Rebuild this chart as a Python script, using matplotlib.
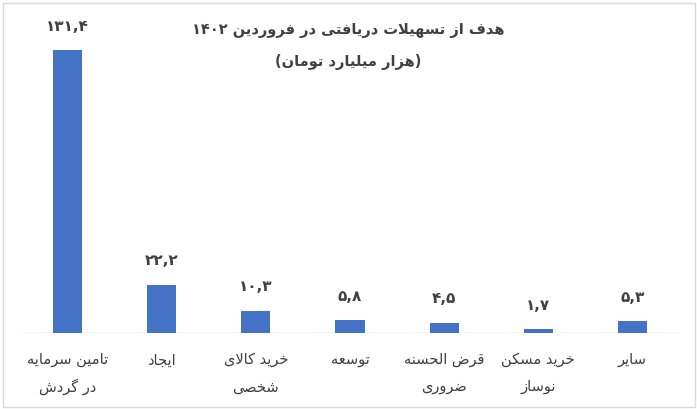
import matplotlib
matplotlib.use('Agg')
import matplotlib.pyplot as plt
from matplotlib import font_manager
from matplotlib.font_manager import FontProperties
from matplotlib.ft2font import FT2Font
from matplotlib.patches import Rectangle

# ---------------- data ----------------
categories = ["تامین سرمایه\nدر گردش", "ایجاد", "خرید کالای\nشخصی", "توسعه",
              "قرض الحسنه\nضروری", "خرید مسکن\nنوساز", "سایر"]
values = [131.4, 22.2, 10.3, 5.8, 4.5, 1.7, 5.3]
value_labels = ["۱۳۱,۴", "۲۲,۲", "۱۰,۳", "۵,۸", "۴,۵", "۱,۷", "۵,۳"]
title_lines = ["هدف از تسهیلات دریافتی در فروردین ۱۴۰۲", "(هزار میلیارد تومان)"]

# ---------------- simple Persian shaping ----------------
FAMILY = 'DejaVu Sans'
cmaps = []
for w in ('normal', 'bold'):
    try:
        p = font_manager.findfont(FontProperties(family=FAMILY, weight=w))
        cmaps.append(set(FT2Font(p).get_charmap().keys()))
    except Exception:
        pass


def has(ch):
    return all(ord(ch) in c for c in cmaps) if cmaps else True


FORMS = {
    'ا': ('\uFE8D', '\uFE8E', None, None),
    'ب': ('\uFE8F', '\uFE90', '\uFE91', '\uFE92'),
    'ت': ('\uFE95', '\uFE96', '\uFE97', '\uFE98'),
    'ج': ('\uFE9D', '\uFE9E', '\uFE9F', '\uFEA0'),
    'ح': ('\uFEA1', '\uFEA2', '\uFEA3', '\uFEA4'),
    'خ': ('\uFEA5', '\uFEA6', '\uFEA7', '\uFEA8'),
    'د': ('\uFEA9', '\uFEAA', None, None),
    'ر': ('\uFEAD', '\uFEAE', None, None),
    'ز': ('\uFEAF', '\uFEB0', None, None),
    'س': ('\uFEB1', '\uFEB2', '\uFEB3', '\uFEB4'),
    'ش': ('\uFEB5', '\uFEB6', '\uFEB7', '\uFEB8'),
    'ص': ('\uFEB9', '\uFEBA', '\uFEBB', '\uFEBC'),
    'ض': ('\uFEBD', '\uFEBE', '\uFEBF', '\uFEC0'),
    'ع': ('\uFEC9', '\uFECA', '\uFECB', '\uFECC'),
    'ف': ('\uFED1', '\uFED2', '\uFED3', '\uFED4'),
    'ق': ('\uFED5', '\uFED6', '\uFED7', '\uFED8'),
    'ل': ('\uFEDD', '\uFEDE', '\uFEDF', '\uFEE0'),
    'م': ('\uFEE1', '\uFEE2', '\uFEE3', '\uFEE4'),
    'ن': ('\uFEE5', '\uFEE6', '\uFEE7', '\uFEE8'),
    'ه': ('\uFEE9', '\uFEEA', '\uFEEB', '\uFEEC'),
    'و': ('\uFEED', '\uFEEE', None, None),
    'ی': ('\uFBFC', '\uFBFD', '\uFBFE', '\uFBFF'),
    'ک': ('\uFB8E', '\uFB8F', '\uFB90', '\uFB91'),
    'گ': ('\uFB92', '\uFB93', '\uFB94', '\uFB95'),
}
FALLBACK = {
    'ی': ('\uFEEF', '\uFEF0', '\uFEF3', '\uFEF4'),
    'ک': ('\uFED9', '\uFEDA', '\uFEDB', '\uFEDC'),
    'گ': ('\uFED9', '\uFEDA', '\uFEDB', '\uFEDC'),
}
for k, fb in FALLBACK.items():
    f = FORMS[k]
    FORMS[k] = tuple(a if (a is None or has(a)) else b for a, b in zip(f, fb))


def joins_left(ch):
    return ch in FORMS and FORMS[ch][2] is not None


def shape(s):
    out = []
    i = 0
    n = len(s)
    while i < n:
        ch = s[i]
        if ch not in FORMS:
            out.append(ch)
            i += 1
            continue
        prev_j = i > 0 and joins_left(s[i - 1])
        if ch == 'ل' and i + 1 < n and s[i + 1] == 'ا':
            out.append('\uFEFC' if prev_j else '\uFEFB')
            i += 2
            continue
        next_j = joins_left(ch) and i + 1 < n and s[i + 1] in FORMS
        iso, fin, ini, med = FORMS[ch]
        if prev_j and next_j:
            out.append(med)
        elif prev_j:
            out.append(fin)
        elif next_j:
            out.append(ini)
        else:
            out.append(iso)
        i += 1
    return ''.join(out)


def is_num(ch):
    return ch.isdigit() or ch in ',.'


def rtl(s):
    s = shape(s)
    tokens = []
    cur = ''
    cur_num = None
    for ch in s:
        t = is_num(ch)
        if cur and t != cur_num:
            tokens.append((cur, cur_num))
            cur = ''
        cur += ch
        cur_num = t
    if cur:
        tokens.append((cur, cur_num))
    mirror = {'(': ')', ')': '('}
    res = []
    for tok, num in reversed(tokens):
        if num:
            res.append(tok)
        else:
            res.append(''.join(mirror.get(c, c) for c in reversed(tok)))
    return ''.join(res)


# ---------------- figure ----------------
plt.rcParams['font.family'] = [FAMILY]
W, H = 697, 409
fig = plt.figure(figsize=(W / 100, H / 100), dpi=100)
fig.patch.set_facecolor('white')

fig.add_artist(Rectangle((2.5 / W, 2.5 / H), (W - 5) / W, (H - 5) / H,
                         transform=fig.transFigure, fill=False,
                         edgecolor='#d9d9d9', linewidth=1.0))

ax_left, ax_right = 20.4, 679.6
ax_bottom_px = 332.7
ymax = 140
px_per_unit = 2.151
ax_h = ymax * px_per_unit
ax = fig.add_axes([ax_left / W, (H - ax_bottom_px) / H,
                   (ax_right - ax_left) / W, ax_h / H])

x = list(range(len(values)))
ax.bar(x, values, width=0.31, color='#4472C4', zorder=2)
ax.set_xlim(-0.5, len(values) - 0.5)
ax.set_ylim(0, ymax)
ax.axis('off')
ax.axhline(0, color='#d9d9d9', linewidth=1.0, zorder=1)

text_color = '#404040'
for xi, v, lab in zip(x, values, value_labels):
    ax.annotate(lab, (xi, v), xytext=(0, 17.3), textcoords='offset points',
                ha='center', va='center', fontsize=11, fontweight='bold',
                color=text_color)

for xi, cat in zip(x, categories):
    lines = cat.split('\n')
    for li, line in enumerate(lines):
        ax.annotate(rtl(line), (xi, 0), xycoords=('data', 'data'),
                    xytext=(0, -19.5 - 19.5 * li), textcoords='offset points',
                    ha='center', va='center', fontsize=10.5, color=text_color)

fig.text(0.5, 1 - 31 / H, rtl(title_lines[0]), ha='center', va='center',
         fontsize=10.5, fontweight='bold', color=text_color)
fig.text(0.5, 1 - 62 / H, rtl(title_lines[1]), ha='center', va='center',
         fontsize=10.5, fontweight='bold', color=text_color)

fig.savefig('out.png', dpi=100, facecolor='white')
